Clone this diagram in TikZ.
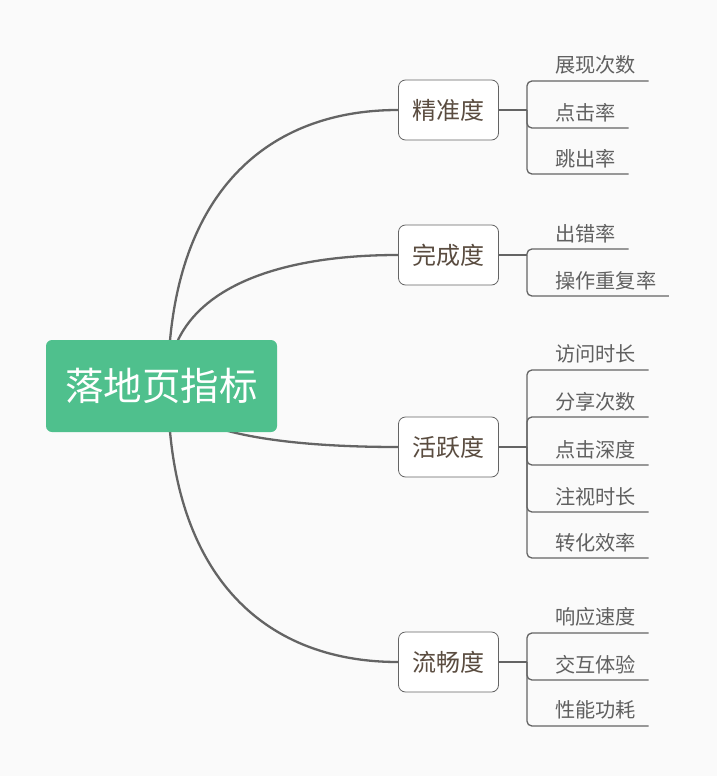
\documentclass[tikz,border=0pt]{standalone}
\usepackage{fontspec}
\setmainfont{Noto Sans CJK SC}
\usetikzlibrary{calc,backgrounds}
\definecolor{bg}{HTML}{FAFAFA}
\definecolor{rootgreen}{HTML}{4FC08D}
\definecolor{linegray}{HTML}{646464}
\definecolor{boxtext}{HTML}{5A4C40}
\definecolor{leaftext}{HTML}{606060}

\begin{document}
\begin{tikzpicture}[x=1pt,y=-1pt,
    rootbox/.style={fill=rootgreen,rounded corners=6pt,minimum width=231pt,minimum height=92pt,
      text=white,font=\fontsize{38.5}{40}\selectfont},
    topic/.style={draw=linegray,line width=0.8pt,fill=white,rounded corners=7pt,
      minimum width=100pt,minimum height=60pt,text=boxtext,font=\fontsize{24}{26}\selectfont},
    leaf/.style={anchor=south west,inner xsep=12.5pt,inner ysep=0pt,minimum height=31pt,
      text=leaftext,font=\fontsize{20.2}{22}\selectfont},
    trunk/.style={draw=linegray,line width=2.3pt},
    twig/.style={draw=linegray,line width=1.3pt,rounded corners=5pt}]
  \useasboundingbox (0,0) rectangle (717,776);

  \node[rootbox] (root) at (161.5,386) {落地页指标};
  \coordinate (rc) at ($(root.center)+(6.5pt,0)$);

  \node[topic] (jzd) at (448.5,110) {精准度};
  \node[topic] (wcd) at (448.5,255) {完成度};
  \node[topic] (hyd) at (448.5,447) {活跃度};
  \node[topic] (lcd) at (448.5,662) {流畅度};

  % leaves, placed on their underline
  \node[leaf] (jzd1) at (542.5,81) {展现次数};
  \node[leaf] (jzd2) at (542.5,128) {点击率};
  \node[leaf] (jzd3) at (542.5,174) {跳出率};
  \node[leaf] (wcd1) at (542.5,249) {出错率};
  \node[leaf] (wcd2) at (542.5,296) {操作重复率};
  \node[leaf] (hyd1) at (542.5,370) {访问时长};
  \node[leaf] (hyd2) at (542.5,417) {分享次数};
  \node[leaf] (hyd3) at (542.5,465) {点击深度};
  \node[leaf] (hyd4) at (542.5,512) {注视时长};
  \node[leaf] (hyd5) at (542.5,558) {转化效率};
  \node[leaf] (lcd1) at (542.5,633) {响应速度};
  \node[leaf] (lcd2) at (542.5,680) {交互体验};
  \node[leaf] (lcd3) at (542.5,726) {性能功耗};

  \begin{scope}[on background layer]
    \fill[bg] (0,0) rectangle (717,776);
    \foreach \m in {jzd,wcd,hyd,lcd}
      \draw[trunk] (rc) .. controls ($(rc)!.67!(rc |- \m.west)$) and ($(\m.west)!.6!(rc |- \m.west)$) .. (\m.west);
  \end{scope}

  \foreach \m/\n in {jzd/3,wcd/2,hyd/5,lcd/3} {
    \coordinate (\m-hub) at ($(\m.east)+(28pt,0)$);
    \draw[twig] (\m.east) -- (\m-hub);
    \foreach \i in {1,...,\n}
      \draw[twig] (\m-hub) |- (\m\i.south east);
  }
\end{tikzpicture}
\end{document}
